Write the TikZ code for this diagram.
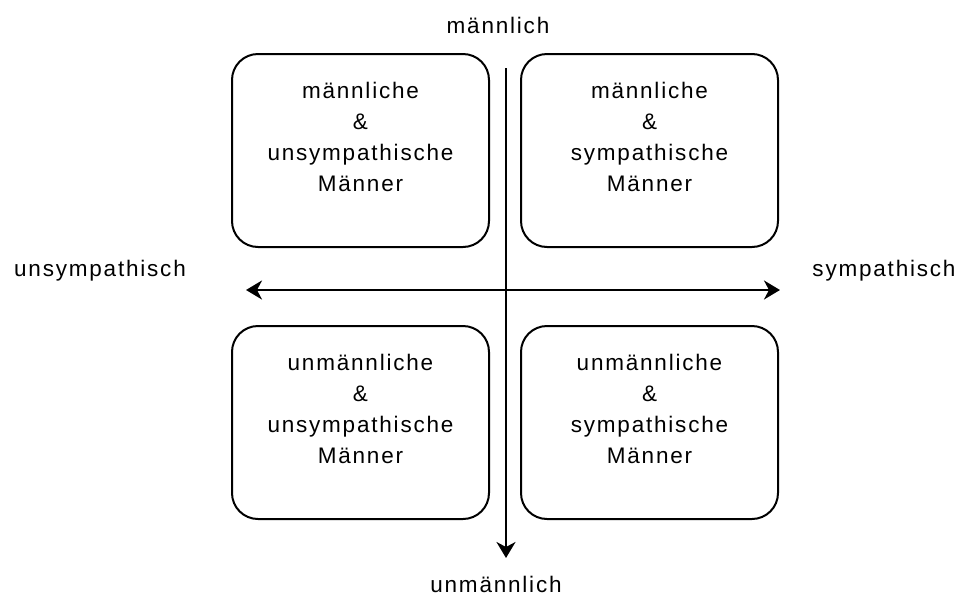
\documentclass[tikz,border=0pt]{standalone}
\usepackage{fontspec}
\setmainfont{Liberation Sans}[LetterSpace=8]
\usepackage{tikz}
\usetikzlibrary{arrows.meta,positioning}

\begin{document}
\begin{tikzpicture}[x=1pt,y=-1pt,
  >={Stealth[length=16pt,width=19pt,inset=5pt]},
  quadbox/.style={draw, line width=2pt, rounded corners=26pt, minimum width=257pt, minimum height=193pt},
  quadtext/.style={align=center, font=\fontsize{22.5}{31}\selectfont},
  axislabel/.style={font=\fontsize{22.5}{26}\selectfont},
  axis/.style={line width=2pt}]
\useasboundingbox (0,0) rectangle (962,595);
\node[quadbox] (ml) at (360.5,150.5) {};
\node[quadbox] (ms) at (649.5,150.5) {};
\node[quadbox] (ul) at (360.5,422.5) {};
\node[quadbox] (us) at (649.5,422.5) {};
\node[quadtext] (mlt) at ([yshift=14pt]ml.center) {männliche\\\&\\unsympathische\\Männer};
\node[quadtext] (mst) at ([yshift=14pt]ms.center) {männliche\\\&\\sympathische\\Männer};
\node[quadtext] (ult) at ([yshift=14pt]ul.center) {unmännliche\\\&\\unsympathische\\Männer};
\node[quadtext] (ust) at ([yshift=14pt]us.center) {unmännliche\\\&\\sympathische\\Männer};
\node[axislabel] (male) at (498,25) {männlich};
\node[axislabel] (unmale) at (496,584) {unmännlich};
\node[axislabel] (unsym) at (100,271) {unsympathisch};
\node[axislabel] (sym) at (884,271) {sympathisch};
\coordinate (top) at (506,68);
\coordinate (bottom) at (506,558);
\coordinate (left) at (246,290);
\coordinate (right) at (780,290);
\draw[axis,->] (top) -- (bottom);
\draw[axis,<->] (left) -- (right);
\end{tikzpicture}
\end{document}
